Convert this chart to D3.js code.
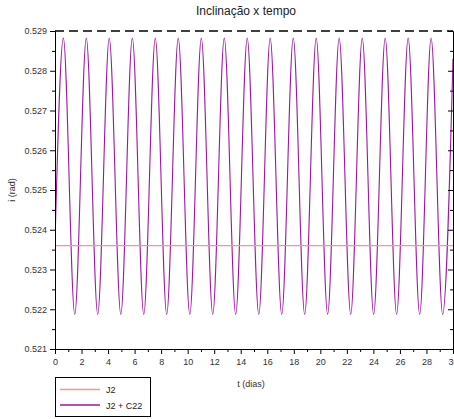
<!DOCTYPE html>
<html>
<head>
<meta charset="utf-8">
<script src="https://cdn.jsdelivr.net/npm/d3@7"></script>
<style>
  body { margin: 0; background: #fff; }
  svg { display: block; font-family: "Liberation Sans", Arial, sans-serif; }
</style>
</head>
<body>
<svg id="chart" width="454" height="419"></svg>
<script>
// values
const xTicks = [0, 2, 4, 6, 8, 10, 12, 14, 16, 18, 20, 22, 24, 26, 28, 30];
const xMinor = [1, 3, 5, 7, 9, 11, 13, 15, 17, 19, 21, 23, 25, 27, 29];
const yTicks = [0.521, 0.522, 0.523, 0.524, 0.525, 0.526, 0.527, 0.528, 0.529];
const yMinor = [0.5215, 0.5225, 0.5235, 0.5245, 0.5255, 0.5265, 0.5275, 0.5285];

// J2 only: flat inclination
const j2T = [0, 30];
const j2I = [0.5236, 0.5236];

// J2 + C22: start, alternating maxima / minima, end
const c22T = [0, 0.63, 1.49, 2.36, 3.22, 4.09, 4.96, 5.83, 6.69, 7.56, 8.42, 9.29, 10.16,
  11.03, 11.89, 12.76, 13.62, 14.49, 15.36, 16.22, 17.09, 17.96, 18.82, 19.69, 20.55,
  21.42, 22.29, 23.16, 24.02, 24.89, 25.75, 26.62, 27.49, 28.35, 29.22, 30];
const c22I = [0.5237, 0.52882, 0.52187, 0.52882, 0.52187, 0.52882, 0.52187, 0.52882,
  0.52187, 0.52882, 0.52187, 0.52882, 0.52187, 0.52882, 0.52187, 0.52882, 0.52187,
  0.52882, 0.52187, 0.52882, 0.52187, 0.52882, 0.52187, 0.52882, 0.52187, 0.52882,
  0.52187, 0.52882, 0.52187, 0.52882, 0.52187, 0.52882, 0.52187, 0.52882, 0.52187, 0.5283];

const legendNames = ["J2", "J2 + C22"];
const colors = ["#f39595", "#991a9d"];

const mLeft = 55, mRight = 453, mTop = 31, mBottom = 349;
const svg = d3.select("#chart");

const x = d3.scaleLinear().domain([0, 30]).range([mLeft, mRight]);
const y = d3.scaleLinear().domain([0.521, 0.529]).range([mBottom, mTop]);

svg.append("defs").append("clipPath").attr("id", "clip")
  .append("rect").attr("x", mLeft).attr("y", mTop).attr("width", mRight - mLeft).attr("height", mBottom - mTop);

// title and axis names
svg.append("text").attr("x", 246).attr("y", 15).attr("text-anchor", "middle")
  .attr("font-size", 12).attr("fill", "#222").text("Inclinação x tempo");
svg.append("text").attr("x", 251).attr("y", 387).attr("text-anchor", "middle")
  .attr("font-size", 9).attr("fill", "#333").text("t (dias)");
svg.append("text").attr("transform", "translate(15,190) rotate(-90)").attr("text-anchor", "middle")
  .attr("font-size", 9).attr("fill", "#333").text("i (rad)");

// lines
const line = d3.line().x(d => x(d[0])).y(d => y(d[1]));
const plot = svg.append("g").attr("clip-path", "url(#clip)");
plot.append("path").datum(d3.zip(c22T, c22I))
  .attr("fill", "none").attr("stroke", colors[1]).attr("stroke-width", 1.1)
  .attr("d", line.curve(d3.curveMonotoneX));
plot.append("path").datum(d3.zip(j2T, j2I))
  .attr("fill", "none").attr("stroke", colors[0]).attr("stroke-width", 1.3)
  .attr("d", line.curve(d3.curveLinear));

// axes
function styleAxis(g) {
  g.selectAll("line, path").attr("stroke", "#000");
  g.selectAll("text").attr("fill", "#333").attr("font-size", 9)
    .attr("font-family", "Liberation Sans, Arial, sans-serif");
}

svg.append("g").attr("transform", `translate(${mLeft},0)`)
  .call(d3.axisLeft(y).tickValues(yMinor).tickSize(3).tickFormat("")).call(styleAxis);
svg.append("g").attr("transform", `translate(${mLeft},0)`)
  .call(d3.axisLeft(y).tickValues(yTicks).tickSize(5).tickSizeOuter(0).tickPadding(3).tickFormat(d3.format(".3f")))
  .call(styleAxis);

svg.append("g").attr("transform", `translate(0,${mBottom})`)
  .call(d3.axisBottom(x).tickValues(xMinor).tickSize(3).tickFormat("")).call(styleAxis);
svg.append("g").attr("transform", `translate(0,${mBottom})`)
  .call(d3.axisBottom(x).tickValues(xTicks).tickSize(5).tickSizeOuter(0).tickPadding(5).tickFormat(d3.format("d")))
  .call(styleAxis);

// right side: ticks pointing inward
svg.append("g").attr("transform", `translate(${mRight},0)`)
  .call(d3.axisLeft(y).tickValues(yMinor).tickSize(3).tickFormat("")).call(styleAxis);
svg.append("g").attr("transform", `translate(${mRight},0)`)
  .call(d3.axisLeft(y).tickValues(yTicks).tickSize(5).tickSizeOuter(0).tickFormat("")).call(styleAxis);

// top border dashed
svg.append("line").attr("x1", mLeft).attr("x2", mRight).attr("y1", mTop).attr("y2", mTop)
  .attr("stroke", "#000").attr("stroke-width", 1.3).attr("stroke-dasharray", "9,5");

// legend
const lg = svg.append("g");
lg.append("rect").attr("x", 55.5).attr("y", 377.5).attr("width", 95).attr("height", 39)
  .attr("fill", "#fff").attr("stroke", "#000");
legendNames.forEach((name, i) => {
  const ly = 389.5 + i * 15.5;
  lg.append("line").attr("x1", 60).attr("x2", 100).attr("y1", ly).attr("y2", ly)
    .attr("stroke", colors[i]).attr("stroke-width", 1.3);
  lg.append("text").attr("x", 106).attr("y", ly + 3.5).attr("font-size", 9).attr("fill", "#222").text(name);
});
</script>
</body>
</html>
